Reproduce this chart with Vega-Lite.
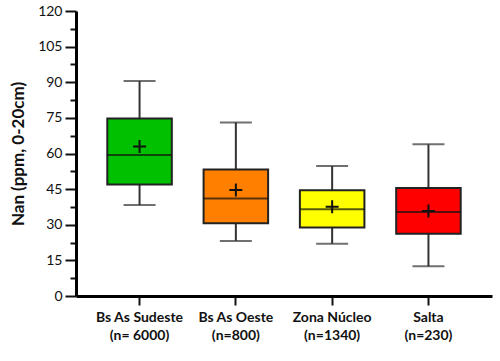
{
  "$schema": "https://vega.github.io/schema/vega-lite/v6.json",
  "width": 416,
  "height": 285,
  "autosize": {"type": "none"},
  "padding": {"left": 76, "top": 11, "right": 8, "bottom": 65},
  "background": "white",
  "config": {
    "view": {"stroke": null},
    "font": "Lato",
    "axis": {
      "domainColor": "#000",
      "domainWidth": 3,
      "tickColor": "#111",
      "tickWidth": 2,
      "grid": false,
      "labelColor": "#111",
      "titleColor": "#111"
    }
  },
  "data": {
    "values": [
      {"zona": "Bs As Sudeste (n= 6000)", "min": 38.3, "q1": 47.0, "median": 59.4, "q3": 74.7, "max": 90.5, "mean": 62.9},
      {"zona": "Bs As Oeste (n=800)", "min": 23.2, "q1": 30.6, "median": 41.1, "q3": 53.3, "max": 73.1, "mean": 44.6},
      {"zona": "Zona Núcleo (n=1340)", "min": 22.0, "q1": 28.8, "median": 36.5, "q3": 44.5, "max": 54.7, "mean": 37.6},
      {"zona": "Salta (n=230)", "min": 12.5, "q1": 26.2, "median": 35.4, "q3": 45.5, "max": 63.9, "mean": 35.8}
    ]
  },
  "encoding": {
    "x": {
      "field": "zona",
      "type": "nominal",
      "sort": null,
      "scale": {"paddingInner": 0, "paddingOuter": 0.16},
      "axis": {
        "title": null,
        "labelAngle": 0,
        "labelFontSize": 14,
        "labelFontWeight": "bold",
        "labelLineHeight": 18,
        "labelPadding": 5,
        "labelOverlap": false,
        "tickSize": 9,
        "labelExpr": "[slice(datum.label, 0, indexof(datum.label, ' (')), slice(datum.label, indexof(datum.label, ' (') + 1)]"
      }
    }
  },
  "layer": [
    {
      "mark": {"type": "rule", "color": "#333", "strokeWidth": 2},
      "encoding": {
        "y": {
          "field": "min",
          "type": "quantitative",
          "scale": {"domain": [0, 120], "nice": false},
          "axis": {
            "title": "Nan (ppm, 0-20cm)",
            "titleFontSize": 17,
            "titleFontWeight": "bold",
            "titlePadding": 10,
            "values": [0, 7.5, 15, 22.5, 30, 37.5, 45, 52.5, 60, 67.5, 75, 82.5, 90, 97.5, 105, 112.5, 120],
            "labelExpr": "datum.value % 15 === 0 ? datum.label : ''",
            "labelOverlap": false,
            "labelBound": false,
            "labelFlush": false,
            "labelFontSize": 14,
            "labelPadding": 3,
            "tickSize": {"condition": {"test": "datum.value % 15 === 0", "value": 11}, "value": 6}
          }
        },
        "y2": {"field": "max"}
      }
    },
    {
      "mark": {"type": "bar", "stroke": "#222", "strokeWidth": 2, "width": {"band": 0.67}},
      "encoding": {
        "y": {"field": "q1", "type": "quantitative", "axis": {
            "title": "Nan (ppm, 0-20cm)",
            "titleFontSize": 17,
            "titleFontWeight": "bold",
            "titlePadding": 10,
            "values": [0, 7.5, 15, 22.5, 30, 37.5, 45, 52.5, 60, 67.5, 75, 82.5, 90, 97.5, 105, 112.5, 120],
            "labelExpr": "datum.value % 15 === 0 ? datum.label : ''",
            "labelOverlap": false,
            "labelBound": false,
            "labelFlush": false,
            "labelFontSize": 14,
            "labelPadding": 3,
            "tickSize": {"condition": {"test": "datum.value % 15 === 0", "value": 11}, "value": 6}
          }},
        "y2": {"field": "q3"},
        "fill": {
          "field": "zona",
          "type": "nominal",
          "scale": {
            "domain": ["Bs As Sudeste (n= 6000)", "Bs As Oeste (n=800)", "Zona Núcleo (n=1340)", "Salta (n=230)"],
            "range": ["#00C000", "#FF8000", "#FFFF00", "#FF0000"]
          },
          "legend": null
        }
      }
    },
    {
      "mark": {"type": "tick", "color": "#111", "size": 64, "thickness": 2},
      "encoding": {"y": {"field": "median", "type": "quantitative", "axis": {
            "title": "Nan (ppm, 0-20cm)",
            "titleFontSize": 17,
            "titleFontWeight": "bold",
            "titlePadding": 10,
            "values": [0, 7.5, 15, 22.5, 30, 37.5, 45, 52.5, 60, 67.5, 75, 82.5, 90, 97.5, 105, 112.5, 120],
            "labelExpr": "datum.value % 15 === 0 ? datum.label : ''",
            "labelOverlap": false,
            "labelBound": false,
            "labelFlush": false,
            "labelFontSize": 14,
            "labelPadding": 3,
            "tickSize": {"condition": {"test": "datum.value % 15 === 0", "value": 11}, "value": 6}
          }}}
    },
    {
      "mark": {"type": "tick", "color": "#333", "size": 32, "thickness": 2},
      "encoding": {"y": {"field": "min", "type": "quantitative", "axis": {
            "title": "Nan (ppm, 0-20cm)",
            "titleFontSize": 17,
            "titleFontWeight": "bold",
            "titlePadding": 10,
            "values": [0, 7.5, 15, 22.5, 30, 37.5, 45, 52.5, 60, 67.5, 75, 82.5, 90, 97.5, 105, 112.5, 120],
            "labelExpr": "datum.value % 15 === 0 ? datum.label : ''",
            "labelOverlap": false,
            "labelBound": false,
            "labelFlush": false,
            "labelFontSize": 14,
            "labelPadding": 3,
            "tickSize": {"condition": {"test": "datum.value % 15 === 0", "value": 11}, "value": 6}
          }}}
    },
    {
      "mark": {"type": "tick", "color": "#333", "size": 32, "thickness": 2},
      "encoding": {"y": {"field": "max", "type": "quantitative", "axis": {
            "title": "Nan (ppm, 0-20cm)",
            "titleFontSize": 17,
            "titleFontWeight": "bold",
            "titlePadding": 10,
            "values": [0, 7.5, 15, 22.5, 30, 37.5, 45, 52.5, 60, 67.5, 75, 82.5, 90, 97.5, 105, 112.5, 120],
            "labelExpr": "datum.value % 15 === 0 ? datum.label : ''",
            "labelOverlap": false,
            "labelBound": false,
            "labelFlush": false,
            "labelFontSize": 14,
            "labelPadding": 3,
            "tickSize": {"condition": {"test": "datum.value % 15 === 0", "value": 11}, "value": 6}
          }}}
    },
    {
      "mark": {"type": "point", "shape": "M-1,0H1M0,-1V1", "filled": false, "color": "#111", "strokeWidth": 2, "size": 169, "opacity": 1},
      "encoding": {"y": {"field": "mean", "type": "quantitative", "axis": {
            "title": "Nan (ppm, 0-20cm)",
            "titleFontSize": 17,
            "titleFontWeight": "bold",
            "titlePadding": 10,
            "values": [0, 7.5, 15, 22.5, 30, 37.5, 45, 52.5, 60, 67.5, 75, 82.5, 90, 97.5, 105, 112.5, 120],
            "labelExpr": "datum.value % 15 === 0 ? datum.label : ''",
            "labelOverlap": false,
            "labelBound": false,
            "labelFlush": false,
            "labelFontSize": 14,
            "labelPadding": 3,
            "tickSize": {"condition": {"test": "datum.value % 15 === 0", "value": 11}, "value": 6}
          }}}
    }
  ]
}
